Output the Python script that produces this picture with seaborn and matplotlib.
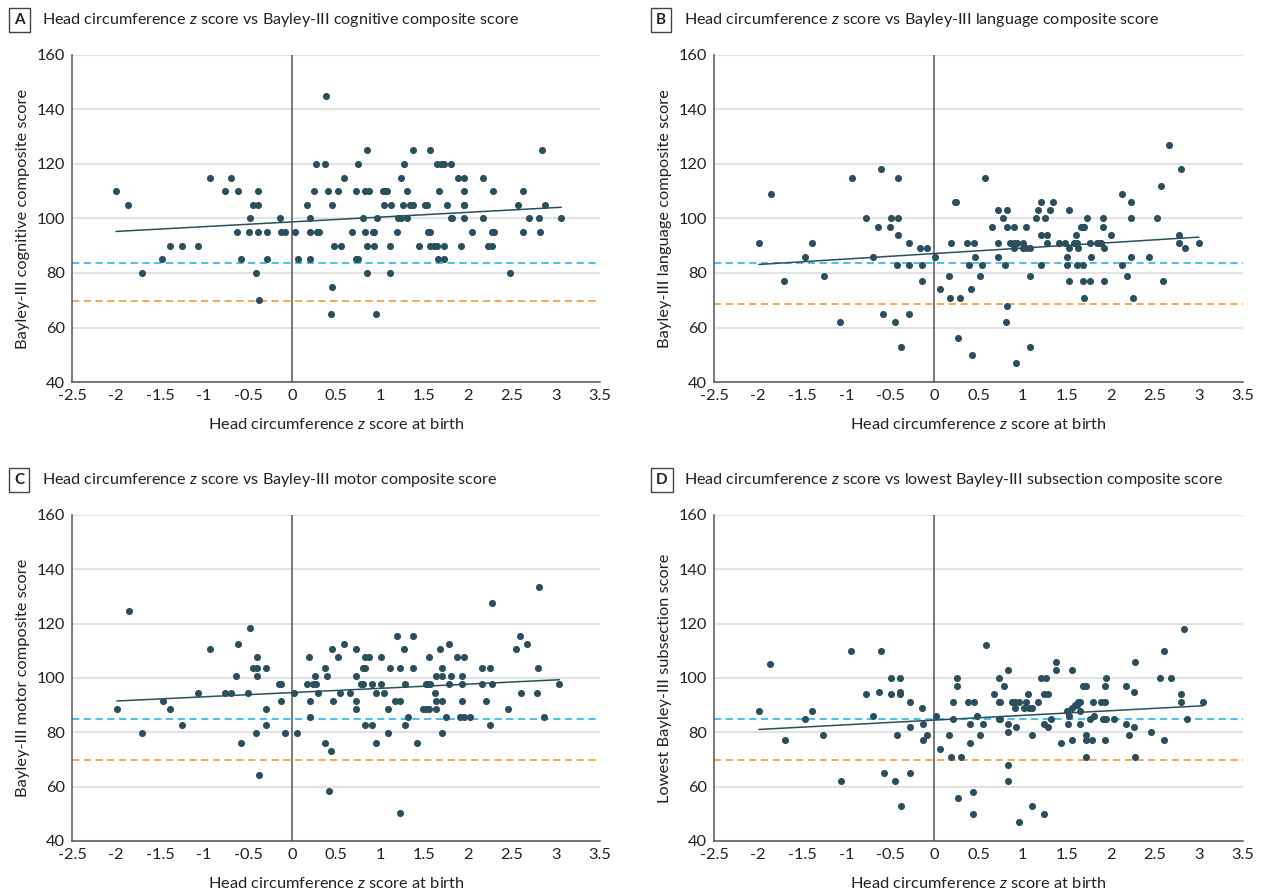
import numpy as np
import pandas as pd
import matplotlib
matplotlib.use("Agg")
import matplotlib.pyplot as plt
import seaborn as sns

# === DATA ===
# A: cognitive composite
a_x = [-2.0, -1.86, -1.70, -1.48, -1.39, -1.25, -1.07, -0.93, -0.76, -0.69, -0.63, -0.61, -0.58,
       -0.49, -0.48, -0.44, -0.41, -0.39, -0.39, -0.39, -0.37, -0.28, -0.28, -0.14, -0.13, -0.08,
       0.03, 0.07, 0.17, 0.20, 0.21, 0.21, 0.27, 0.25, 0.28, 0.31, 0.38, 0.39, 0.41, 0.45, 0.45,
       0.48, 0.44, 0.52, 0.56, 0.59, 0.68, 0.73, 0.75, 0.73, 0.75, 0.81, 0.83, 0.85, 0.875, 0.83,
       0.85, 0.85, 0.92, 0.93, 0.93, 0.97, 0.96, 1.03, 1.06, 1.08, 1.05, 1.11, 1.11, 1.13, 1.19,
       1.21, 1.24, 1.24, 1.27, 1.26, 1.31, 1.31, 1.34, 1.38, 1.38, 1.44, 1.51, 1.53, 1.55, 1.57,
       1.57, 1.57, 1.61, 1.65, 1.67, 1.66, 1.65, 1.69, 1.73, 1.73, 1.73, 1.76, 1.81, 1.81, 1.82,
       1.89, 1.92, 1.95, 1.95, 1.96, 1.96, 1.95, 2.05, 2.17, 2.17, 2.23, 2.27, 2.27, 2.30, 2.28,
       2.48, 2.57, 2.63, 2.63, 2.69, 2.81, 2.82, 2.84, 2.88, 3.06]
a_y = [110, 105, 80, 85, 90, 90, 90, 115, 110, 115, 95, 110, 85,
       95, 100, 105, 80, 110, 105, 95, 70, 95, 85, 100, 95, 95,
       95, 85, 105, 100, 95, 85, 120, 110, 95, 95, 120, 145, 110, 105, 75,
       90, 65, 110, 90, 115, 95, 110, 120, 85, 85, 100, 110, 125, 110, 95,
       90, 80, 95, 95, 90, 100, 65, 110, 110, 110, 105, 90, 80, 105, 95,
       100, 100, 115, 120, 105, 110, 100, 105, 105, 125, 90, 105, 105, 95, 95,
       125, 90, 90, 90, 110, 85, 120, 120, 120, 90, 85, 105, 120, 100, 100,
       115, 90, 110, 105, 105, 115, 100, 95, 115, 100, 90, 90, 95, 95, 110,
       80, 105, 110, 95, 100, 100, 95, 125, 105, 100]

# B: language composite
b_x = [-1.99, -1.85, -1.70, -1.47, -1.39, -1.25, -1.07, -0.93, -0.77, -0.70, -0.64, -0.61, -0.58,
       -0.50, -0.49, -0.45, -0.42, -0.41, -0.41, -0.41, -0.38, -0.29, -0.29, -0.29, -0.16, -0.14,
       -0.14, -0.08, 0.01, 0.06, 0.17, 0.18, 0.19, 0.235, 0.25, 0.27, 0.29, 0.375, 0.39, 0.42,
       0.43, 0.45, 0.46, 0.52, 0.54, 0.57, 0.65, 0.72, 0.72, 0.72, 0.78, 0.80, 0.82, 0.82, 0.82,
       0.81, 0.86, 0.90, 0.94, 0.90, 0.90, 0.93, 1.0, 1.0, 1.04, 1.04, 1.08, 1.08, 1.09, 1.15,
       1.18, 1.21, 1.21, 1.21, 1.25, 1.28, 1.28, 1.31, 1.35, 1.41, 1.48, 1.50, 1.50, 1.53, 1.53,
       1.53, 1.58, 1.61, 1.62, 1.63, 1.62, 1.66, 1.69, 1.70, 1.69, 1.69, 1.70, 1.73, 1.77, 1.78,
       1.76, 1.84, 1.87, 1.89, 1.91, 1.91, 1.92, 1.92, 2.0, 2.13, 2.13, 2.18, 2.23, 2.23, 2.23,
       2.25, 2.43, 2.52, 2.57, 2.59, 2.66, 2.77, 2.77, 2.80, 2.84, 3.00]
b_y = [91, 109, 77, 86, 91, 79, 62, 115, 100, 86, 97, 118, 65,
       97, 100, 62, 83, 115, 100, 94, 53, 91, 83, 65, 89, 83,
       77, 89, 86, 74, 79, 71, 91, 106, 106, 56, 71, 91, 83, 74,
       50, 91, 86, 79, 83, 115, 97, 103, 91, 86, 100, 83, 103, 97, 68,
       62, 91, 91, 91, 89, 97, 47, 91, 89, 89, 97, 79, 53, 89, 100,
       103, 106, 94, 83, 100, 94, 91, 103, 106, 91, 91, 86, 83, 103, 89,
       77, 91, 94, 91, 89, 83, 97, 97, 97, 83, 77, 71, 100, 91, 86,
       77, 91, 91, 91, 100, 97, 89, 77, 94, 109, 83, 79, 106, 100, 86,
       71, 86, 100, 112, 77, 127, 94, 91, 118, 89, 91]

# C: motor composite
c_x = [-1.99, -1.85, -1.70, -1.47, -1.39, -1.25, -1.07, -0.93, -0.76, -0.69, -0.64, -0.61, -0.58,
       -0.50, -0.48, -0.44, -0.40, -0.40, -0.40, -0.41, -0.37, -0.29, -0.29, -0.29, -0.15, -0.13,
       -0.13, -0.08, 0.02, 0.06, 0.17, 0.19, 0.20, 0.20, 0.24, 0.27, 0.26, 0.30, 0.38, 0.38, 0.40,
       0.44, 0.42, 0.45, 0.47, 0.52, 0.55, 0.59, 0.66, 0.73, 0.73, 0.73, 0.73, 0.79, 0.81, 0.81,
       0.83, 0.83, 0.87, 0.83, 0.91, 0.91, 0.95, 0.95, 1.01, 1.01, 1.05, 1.09, 1.09, 1.11, 1.17,
       1.19, 1.23, 1.23, 1.23, 1.27, 1.29, 1.29, 1.32, 1.38, 1.38, 1.42, 1.49, 1.52, 1.56, 1.52,
       1.54, 1.57, 1.56, 1.62, 1.64, 1.64, 1.64, 1.68, 1.71, 1.71, 1.71, 1.71, 1.75, 1.78, 1.79,
       1.81, 1.875, 1.905, 1.95, 1.93, 1.93, 1.93, 1.95, 2.02, 2.16, 2.16, 2.20, 2.25, 2.25, 2.27,
       2.27, 2.45, 2.55, 2.59, 2.60, 2.67, 2.79, 2.80, 2.81, 2.86, 3.04]
c_y = [88.6, 124.5, 79.7, 91.7, 88.6, 82.6, 94.6, 110.5, 94.6, 94.6, 100.6, 112.6, 76.2,
       94.6, 118.5, 103.6, 103.6, 107.6, 100.6, 79.7, 64.2, 103.6, 88.6, 82.6, 97.7, 97.7,
       91.7, 79.7, 94.6, 79.7, 97.7, 107.6, 91.7, 85.7, 97.7, 97.7, 100.6, 94.6, 103.6, 76.2, 100.6,
       73.3, 58.3, 110.5, 91.7, 107.6, 94.6, 112.6, 94.6, 110.5, 100.6, 91.7, 88.6, 97.7, 97.7, 103.6,
       103.6, 107.6, 107.6, 82.6, 97.7, 82.6, 94.6, 76.2, 107.6, 97.7, 94.6, 88.6, 79.7, 103.6, 91.7,
       115.6, 103.6, 91.7, 50.4, 110.5, 97.7, 82.6, 85.7, 115.6, 103.6, 76.2, 88.6, 88.6, 88.6, 97.7,
       97.7, 97.7, 107.6, 94.6, 100.6, 91.7, 88.6, 110.5, 103.6, 100.6, 91.7, 79.7, 85.7, 112.6, 97.7,
       100.6, 107.6, 85.7, 85.7, 97.7, 100.6, 91.7, 107.6, 85.7, 103.6, 97.7, 91.7, 103.6, 82.6, 97.7,
       127.6, 88.6, 110.5, 115.6, 94.6, 112.6, 94.6, 103.6, 133.5, 85.7, 97.7]

# D: lowest subsection score
d_x = [-1.99, -1.86, -1.69, -1.47, -1.39, -1.26, -1.06, -0.94, -0.77, -0.70, -0.63, -0.60, -0.57,
       -0.49, -0.49, -0.45, -0.42, -0.39, -0.39, -0.39, -0.375, -0.28, -0.28, -0.28, -0.14, -0.125,
       -0.125, -0.08, 0.015, 0.06, 0.17, 0.19, 0.21, 0.21, 0.26, 0.26, 0.27, 0.30, 0.38, 0.40, 0.40,
       0.44, 0.44, 0.455, 0.48, 0.52, 0.55, 0.59, 0.68, 0.73, 0.735, 0.75, 0.735, 0.75, 0.79, 0.83,
       0.83, 0.83, 0.83, 0.83, 0.875, 0.92, 0.96, 0.92, 0.93, 0.96, 1.015, 1.04, 1.07, 1.11, 1.06,
       1.11, 1.11, 1.18, 1.21, 1.27, 1.24, 1.29, 1.24, 1.29, 1.32, 1.24, 1.38, 1.38, 1.44, 1.50,
       1.52, 1.53, 1.56, 1.56, 1.56, 1.59, 1.62, 1.63, 1.65, 1.65, 1.65, 1.69, 1.716, 1.72, 1.72,
       1.72, 1.76, 1.79, 1.80, 1.81, 1.89, 1.94, 1.91, 1.95, 1.94, 1.95, 1.94, 2.04, 2.17, 2.17,
       2.21, 2.26, 2.28, 2.26, 2.28, 2.46, 2.56, 2.60, 2.61, 2.68, 2.80, 2.80, 2.83, 2.87, 3.05]
d_y = [88, 105, 77, 85, 88, 79, 62, 110, 94, 86, 95, 110, 65,
       100, 94, 62, 79, 100, 95, 94, 53, 91, 82, 65, 89, 83,
       77, 79, 86, 74, 79, 71, 91, 85, 100, 97, 56, 71, 91, 83, 76,
       58, 50, 91, 86, 79, 83, 112, 94, 100, 91, 91, 85, 85, 97, 103,
       83, 80, 68, 62, 91, 91, 91, 89, 82, 47, 89, 91, 89, 89, 94,
       79, 53, 91, 100, 100, 94, 94, 83, 82, 85, 50, 106, 103, 76, 88,
       83, 86, 103, 89, 77, 90, 90, 91, 91, 88, 83, 97, 97, 79, 77,
       71, 85, 77, 91, 86, 91, 91, 85, 85, 97, 100, 77, 85, 97, 83,
       79, 95, 106, 82, 71, 80, 100, 110, 77, 100, 94, 91, 118, 85, 91]

# cut-off levels (blue = -1 SD, orange = -2 SD)
blue_lvl = [83.8, 83.8, 84.8, 84.8]
orange_lvl = [69.6, 68.6, 69.9, 69.9]

titles = ["Head circumference $\\it{z}$ score vs Bayley-III cognitive composite score",
          "Head circumference $\\it{z}$ score vs Bayley-III language composite score",
          "Head circumference $\\it{z}$ score vs Bayley-III motor composite score",
          "Head circumference $\\it{z}$ score vs lowest Bayley-III subsection composite score"]
ylabels = ["Bayley-III cognitive composite score", "Bayley-III language composite score",
           "Bayley-III motor composite score", "Lowest Bayley-III subsection score"]
letters = ["A", "B", "C", "D"]
xticks = [-2.5, -2, -1.5, -1, -0.5, 0, 0.5, 1, 1.5, 2, 2.5, 3, 3.5]
xticklabels = ["-2.5", "-2", "-1.5", "-1", "-0.5", "0", "0.5", "1", "1.5", "2", "2.5", "3", "3.5"]

sns.set_style("white")
plt.rcParams['font.family'] = ['Lato', 'DejaVu Sans']
plt.rcParams['mathtext.fontset'] = 'custom'
plt.rcParams['mathtext.it'] = 'Lato:italic'
plt.rcParams['mathtext.rm'] = 'Lato'
plt.rcParams['axes.unicode_minus'] = False

dot = "#2b4f5c"
blue = "#3bbcea"
orange = "#f6a441"
grey = "#555555"

fig = plt.figure(figsize=(12.63, 8.94), dpi=100)
positions = [(0.057, 0.5727, 0.418, 0.3658), (0.5653, 0.5727, 0.4188, 0.3658),
             (0.057, 0.0593, 0.418, 0.3647), (0.5653, 0.0593, 0.4188, 0.3647)]
data = [(a_x, a_y), (b_x, b_y), (c_x, c_y), (d_x, d_y)]

for i in range(4):
    ax = fig.add_axes(positions[i])
    df = pd.DataFrame({"z": data[i][0], "score": data[i][1]})
    ax.grid(axis="y", color="#e3e3e3", lw=1.5, zorder=0)
    ax.axhline(blue_lvl[i], color=blue, ls=(0, (4, 2.5)), lw=1.3, zorder=1)
    ax.axhline(orange_lvl[i], color=orange, ls=(0, (4, 2.5)), lw=1.3, zorder=1)
    ax.axvline(0, color=grey, lw=1.1, zorder=1)
    sns.regplot(data=df, x="z", y="score", ax=ax, ci=None, color=dot,
                scatter_kws={"s": 26, "alpha": 1, "linewidths": 0, "zorder": 3},
                line_kws={"lw": 1.1, "zorder": 4})
    ax.set_xlim(-2.5, 3.5)
    ax.set_ylim(40, 160)
    ax.set_xticks(xticks)
    ax.set_xticklabels(xticklabels)
    ax.set_yticks([40, 60, 80, 100, 120, 140, 160])
    ax.tick_params(direction="out", length=4, width=1, color=grey, labelsize=11.8,
                   labelcolor="#222222", pad=1)
    for s in ["top", "right"]:
        ax.spines[s].set_visible(False)
    for s in ["left", "bottom"]:
        ax.spines[s].set_color(grey)
        ax.spines[s].set_linewidth(1.1)
    ax.set_xlabel("Head circumference $\\it{z}$ score at birth", fontsize=11.8, color="#222222", labelpad=10)
    ax.set_ylabel(ylabels[i], fontsize=11.8, color="#222222", labelpad=5)
    # panel letter box and title
    bb = ax.get_position()
    fig.text(bb.x0 - 0.046, bb.y1 + 0.039, letters[i], fontsize=11, fontweight="bold",
             color="#222222", va="center", ha="left",
             bbox=dict(boxstyle="square,pad=0.35", fc="white", ec="#444444", lw=1))
    fig.text(bb.x0 - 0.024, bb.y1 + 0.039, titles[i], fontsize=11.6, color="#222222",
             va="center", ha="left")

plt.savefig("out.png", dpi=100)
plt.close()
